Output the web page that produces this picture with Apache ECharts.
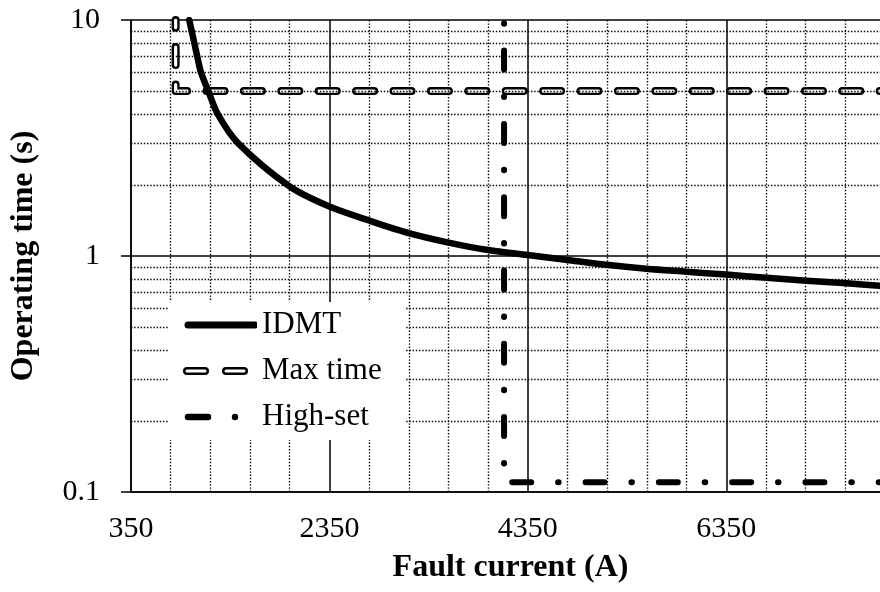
<!DOCTYPE html>
<html><head><meta charset="utf-8">
<script src="https://cdn.jsdelivr.net/npm/echarts@6/dist/echarts.min.js"></script>
<style>html,body{margin:0;padding:0;background:#fff;overflow:hidden}#c{width:891px;height:592px}</style>
</head><body><div id="c"></div>
<script>
// ---- data ----
const xMin = 350, xMax = 8000, xStep = 2000;
const yMin = 0.1, yMax = 10;
const xMinor = [750, 1150, 1550, 1950, 2750, 3150, 3550, 3950, 4750, 5150, 5550, 5950, 6750, 7150, 7550, 7950];
const yMinor = [0.2, 0.3, 0.4, 0.5, 0.6, 0.7, 0.8, 0.9, 2, 3, 4, 5, 6, 7, 8, 9];
const seriesNames = ['IDMT', 'Max time', 'High-set'];
const idmtCurrent = [937, 988, 1018, 1055, 1129, 1223, 1431, 1950, 2350, 2758, 3150, 3550, 3950, 4350, 4750, 5143, 5546, 5949, 6350, 6755, 7158, 7561, 8000];
const idmtTime    = [10, 8, 7, 6, 5, 4, 3, 1.97, 1.62, 1.41, 1.25, 1.14, 1.06, 1.01, 0.962, 0.918, 0.883, 0.858, 0.834, 0.808, 0.786, 0.766, 0.742];
const maxTimeCurrent = [800, 800, 8000];
const maxTimeTime    = [10, 5, 5];
const highSetCurrent = [4110, 4110, 8000];
const highSetTime    = [10, 0.11, 0.11];

const zip = (a, b) => a.map((v, i) => [v, b[i]]);
const FONT = "'Liberation Serif', 'Times New Roman', serif";

const svgIcon = inner => 'image://data:image/svg+xml;charset=utf-8,' + encodeURIComponent(
  '<svg xmlns="http://www.w3.org/2000/svg" width="74" height="20" viewBox="0 0 74 20">' + inner + '</svg>');
const iconIDMT = svgIcon('<line x1="5" y1="10" x2="72" y2="10" stroke="#000" stroke-width="7" stroke-linecap="round"/>');
const iconMax = svgIcon('<g stroke-linecap="round">' +
  '<line x1="4" y1="10" x2="22" y2="10" stroke="#000" stroke-width="8"/>' +
  '<line x1="43" y1="10" x2="61" y2="10" stroke="#000" stroke-width="8"/>' +
  '<line x1="4" y1="10" x2="22" y2="10" stroke="#fff" stroke-width="3"/>' +
  '<line x1="43" y1="10" x2="61" y2="10" stroke="#fff" stroke-width="3"/></g>');
const iconHigh = svgIcon('<line x1="5" y1="10" x2="25" y2="10" stroke="#000" stroke-width="6.5" stroke-linecap="round"/>' +
  '<circle cx="52" cy="10" r="3.2" fill="#000"/>');

const minorStyle = { color: '#000', width: 1.4, type: [1.4, 1.8] };

const chart = echarts.init(document.getElementById('c'), null, { renderer: 'canvas' });
chart.setOption({
  animation: false,
  backgroundColor: '#fff',
  grid: { left: 131, right: 1, top: 20, bottom: 100, containLabel: false },
  legend: {
    orient: 'vertical', left: 169, top: 302, z: 10,
    padding: [5, 24, 5, 14],
    backgroundColor: '#fff',
    itemWidth: 74, itemHeight: 20, itemGap: 10,
    selectedMode: false,
    textStyle: { fontFamily: FONT, fontSize: 31, color: '#000', lineHeight: 36 },
    data: [
      { name: seriesNames[0], icon: iconIDMT },
      { name: seriesNames[1], icon: iconMax },
      { name: seriesNames[2], icon: iconHigh }
    ]
  },
  xAxis: {
    type: 'value', min: xMin, max: xMax, interval: xStep,
    name: 'Fault current (A)', nameLocation: 'middle', nameGap: 60,
    nameTextStyle: { fontFamily: FONT, fontSize: 32, fontWeight: 'bold', color: '#000' },
    axisLine: { show: true, onZero: false, lineStyle: { color: '#000', width: 1.5 } },
    axisTick: { show: false },
    axisLabel: { fontFamily: FONT, fontSize: 30, color: '#000', margin: 22, showMaxLabel: false,
                 formatter: v => String(v) },
    splitLine: { show: true, lineStyle: { color: '#000', width: 1.5 } }
  },
  yAxis: {
    type: 'log', logBase: 10, min: yMin, max: yMax,
    name: 'Operating time (s)', nameLocation: 'middle', nameGap: 91,
    nameTextStyle: { fontFamily: FONT, fontSize: 32, fontWeight: 'bold', color: '#000' },
    axisLine: { show: true, lineStyle: { color: '#000', width: 1.5 } },
    axisTick: { show: true, inside: false, length: 10, lineStyle: { color: '#000', width: 1.5 } },
    axisLabel: { fontFamily: FONT, fontSize: 30, color: '#000', margin: 31 },
    splitLine: { show: true, lineStyle: { color: '#000', width: 1.5 } },
    minorTick: { show: false }, minorSplitLine: { show: false }
  },
  series: [
    {
      name: seriesNames[0], type: 'line', data: zip(idmtCurrent, idmtTime),
      symbol: 'none', smooth: 0.3, clip: true, z: 3,
      lineStyle: { color: '#000', width: 6.5, cap: 'round', join: 'round' }
    },
    {
      name: seriesNames[1], type: 'line', data: zip(maxTimeCurrent, maxTimeTime),
      symbol: 'none', clip: true, z: 2,
      lineStyle: { color: '#000', width: 8, type: [18, 19.4], dashOffset: 10.3, cap: 'round', join: 'round' }
    },
    {
      name: 'Max time inner', type: 'line', data: zip(maxTimeCurrent, maxTimeTime),
      symbol: 'none', clip: true, z: 2, silent: true,
      lineStyle: { color: '#fff', width: 3.2, type: [18, 19.4], dashOffset: 10.3, cap: 'round', join: 'round' }
    },
    {
      name: seriesNames[2], type: 'line', data: zip(highSetCurrent, highSetTime),
      symbol: 'none', clip: true, z: 2,
      lineStyle: { color: '#000', width: 6, type: [19, 26.9, 0.5, 26.9], dashOffset: 42.7, cap: 'round', join: 'round' }
    },
    {
      name: 'minor grid', type: 'line', data: [], silent: true,
      markLine: {
        silent: true, symbol: 'none', animation: false, z: 5,
        label: { show: false },
        lineStyle: minorStyle,
        emphasis: { disabled: true },
        data: xMinor.map(v => ({ xAxis: v })).concat(yMinor.map(v => ({ yAxis: v })))
      }
    }
  ]
});
</script>
</body></html>
